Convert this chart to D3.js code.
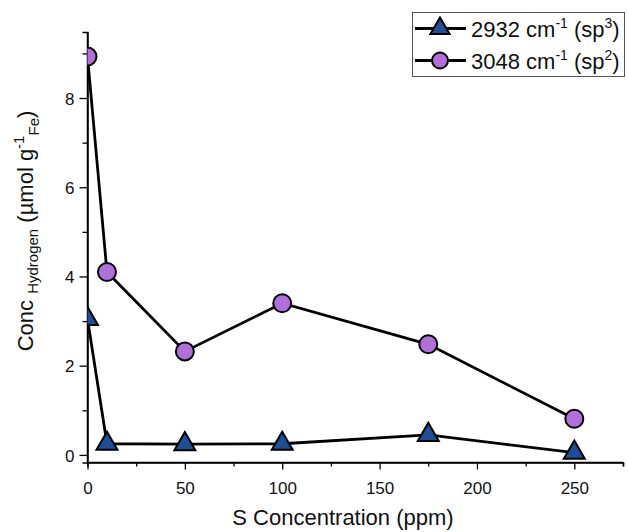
<!DOCTYPE html>
<meta charset="utf-8">
<head>
  <title>Conc Hydrogen vs S concentration</title>
</head>

<style>
body {
  margin: 0;
  background: #fff;
  font-family: "Liberation Sans", Arial, sans-serif;
}
</style>

<body>
  <div id="content">
    <svg width="628" height="532"></svg>
  </div>

  <script src="https://cdnjs.cloudflare.com/ajax/libs/d3/7.8.5/d3.min.js"></script>

  <script>
// data
var sConc = [0, 10, 50, 100, 175, 250];
var sp3Values = [3.05, 0.25, 0.24, 0.25, 0.45, 0.05];
var sp2Values = [8.93, 4.1, 2.32, 3.4, 2.48, 0.81];
var xMajorTicks = [0, 50, 100, 150, 200, 250];
var xMinorTicks = [25, 75, 125, 175, 225, 275];
var yMajorTicks = [0, 2, 4, 6, 8];
var yMinorTicks = [1, 3, 5, 7, 9];

var svg = d3.select('#content svg');

// plot frame (don't use "top", it's window.top)
var plotLeft = 87.5, plotRight = 623, plotTop = 32, plotBottom = 462.5;

var x = d3.scaleLinear().domain([0, 275]).range([plotLeft, plotRight]);
var y = d3.scaleLinear().domain([-0.17, 9.48]).range([plotBottom, plotTop]);

svg.append('rect').attr('width', 628).attr('height', 532).attr('fill', '#fff');

// clip so the points at x = 0 are cut at the axis
svg.append('clipPath').attr('id', 'plotclip')
  .append('rect')
  .attr('x', plotLeft).attr('y', 0)
  .attr('width', 628 - plotLeft).attr('height', plotBottom);

// axes
var xAxis = svg.append('g').attr('transform', 'translate(0,' + plotBottom + ')');
xAxis.call(d3.axisBottom(x).tickValues(xMajorTicks).tickSize(7).tickSizeOuter(0).tickFormat(d3.format('d')));
xAxis.append('g').call(d3.axisBottom(x).tickValues(xMinorTicks).tickSize(4).tickFormat(''));

var yAxis = svg.append('g').attr('transform', 'translate(' + plotLeft + ',0)');
yAxis.call(d3.axisLeft(y).tickValues(yMajorTicks).tickSize(8).tickSizeOuter(0).tickFormat(d3.format('d')));
yAxis.append('g').call(d3.axisLeft(y).tickValues(yMinorTicks).tickSize(5).tickFormat(''));

svg.selectAll('.domain').attr('stroke', '#000').attr('stroke-width', 1.5);
svg.selectAll('.tick line').attr('stroke', '#000').attr('stroke-width', 1.3);
svg.selectAll('.tick text')
  .attr('fill', '#111')
  .style('font-family', '"Liberation Sans", Arial, sans-serif')
  .style('font-size', '17px');
xAxis.selectAll('.tick text').attr('dy', null).attr('y', 31);
yAxis.selectAll('.tick text').attr('x', -13).attr('dy', '0.36em');

// the domain paths should cover the whole frame
xAxis.select('.domain').attr('d', 'M' + plotLeft + ',0H' + plotRight);
yAxis.select('.domain').attr('d', 'M0,' + plotTop + 'V' + plotBottom);

// series
var lineGen = d3.line()
  .x(function(d) { return x(d[0]); })
  .y(function(d) { return y(d[1]); });

var plot = svg.append('g').attr('clip-path', 'url(#plotclip)');

var sp3 = d3.zip(sConc, sp3Values);
var sp2 = d3.zip(sConc, sp2Values);

var triColor = '#1c4f96';
var circColor = '#b26fdc';

var triangle = d3.symbol().type(d3.symbolTriangle).size(190);

plot.append('path').datum(sp3)
  .attr('d', lineGen)
  .attr('fill', 'none').attr('stroke', '#000').attr('stroke-width', 2.8);

plot.append('path').datum(sp2)
  .attr('d', lineGen)
  .attr('fill', 'none').attr('stroke', '#000').attr('stroke-width', 2.8);

plot.selectAll('.tri').data(sp3).enter().append('path')
  .attr('class', 'tri')
  .attr('d', triangle)
  .attr('transform', function(d) { return 'translate(' + x(d[0]) + ',' + y(d[1]) + ')'; })
  .attr('fill', triColor).attr('stroke', '#000').attr('stroke-width', 2);

plot.selectAll('.circ').data(sp2).enter().append('circle')
  .attr('class', 'circ')
  .attr('cx', function(d) { return x(d[0]); })
  .attr('cy', function(d) { return y(d[1]); })
  .attr('r', 9)
  .attr('fill', circColor).attr('stroke', '#000').attr('stroke-width', 2);

// axis titles
svg.append('text')
  .attr('x', 343).attr('y', 525)
  .attr('text-anchor', 'middle')
  .attr('fill', '#111')
  .style('font-size', '22px')
  .text('S Concentration (ppm)');

var yTitle = svg.append('text')
  .attr('transform', 'translate(33,231) rotate(-90)')
  .attr('text-anchor', 'middle')
  .attr('fill', '#111')
  .style('font-size', '22px');
yTitle.append('tspan').text('Conc ');
yTitle.append('tspan').attr('dy', 5).style('font-size', '15px').text('Hydrogen');
yTitle.append('tspan').attr('dy', -5).text(' (\u00b5mol g');
yTitle.append('tspan').attr('dy', -9).style('font-size', '15px').text('-1');
yTitle.append('tspan').attr('dy', 15).style('font-size', '15px').text('Fe');
yTitle.append('tspan').attr('dy', -6).text(')');

// legend
var legend = svg.append('g');
legend.append('rect')
  .attr('x', 412.5).attr('y', 12.5).attr('width', 212).attr('height', 64)
  .attr('fill', '#fff').attr('stroke', '#555').attr('stroke-width', 1);

var legendItems = [
  {label: '2932 cm', sup: '3', shape: 'tri'},
  {label: '3048 cm', sup: '2', shape: 'circ'}
];

legendItems.forEach(function(item, i) {
  var cy = 28.5 + i * 32;
  legend.append('line')
    .attr('x1', 415).attr('x2', 466).attr('y1', cy).attr('y2', cy)
    .attr('stroke', '#000').attr('stroke-width', 2.8);
  if (item.shape === 'tri') {
    legend.append('path')
      .attr('d', d3.symbol().type(d3.symbolTriangle).size(160))
      .attr('transform', 'translate(440,' + cy + ')')
      .attr('fill', triColor).attr('stroke', '#000').attr('stroke-width', 2);
  } else {
    legend.append('circle')
      .attr('cx', 440).attr('cy', cy).attr('r', 8)
      .attr('fill', circColor).attr('stroke', '#000').attr('stroke-width', 2);
  }
  var t = legend.append('text')
    .attr('x', 471).attr('y', cy + 8)
    .attr('fill', '#111')
    .style('font-size', '22px');
  t.append('tspan').text(item.label);
  t.append('tspan').attr('dy', -9).style('font-size', '14px').text('-1');
  t.append('tspan').attr('dy', 9).text(' (sp');
  t.append('tspan').attr('dy', -9).style('font-size', '14px').text(item.sup);
  t.append('tspan').attr('dy', 9).text(')');
});
  </script>
</body>
</html>
